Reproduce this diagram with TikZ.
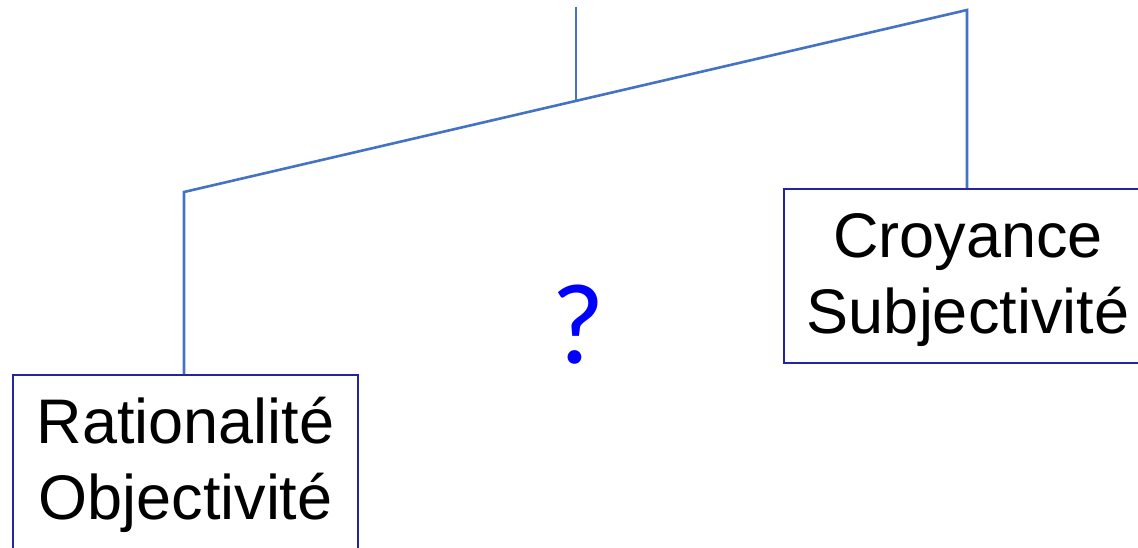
\documentclass[tikz,border=0pt]{standalone}
\usepackage{fontspec}
\setmainfont{Liberation Sans}
\newfontfamily\qfont{Carlito}
\usetikzlibrary{calc}
\definecolor{linkblue}{HTML}{4472C4}
\definecolor{boxblue}{HTML}{2424A0}
\definecolor{qblue}{HTML}{0000FF}
\begin{document}
\begin{tikzpicture}[x=1pt,y=1pt,
  link/.style={draw=linkblue,line width=2.6pt,line join=miter},
  termbox/.style={draw=boxblue,line width=1.8pt,fill=white,rectangle,inner sep=0pt,
    align=center,font=\fontsize{63}{76}\selectfont,text=black}]
\useasboundingbox (0,0) rectangle (1138,-548);
\fill[white] (0,0) rectangle (1138,-548);
\node[termbox,minimum width=345pt,minimum height=174pt] (L) at (185.5,-462) {\rule{0pt}{52pt}Rationalité\\Objectivité};
\node[termbox,minimum width=368pt,minimum height=174pt] (R) at (968,-276) {\rule{0pt}{52pt}Croyance\\Subjectivité};
\coordinate (lc) at (184,-192);
\coordinate (rc) at (967,-10);
\coordinate (top) at (576,-7);
\coordinate (mid) at ($(lc)!0.5!(rc)$);
\draw[link] (L.north -| lc) -- (lc) -- (rc) -- (R.north -| rc);
\draw[link] (top) -- (top |- mid);
\node[anchor=base,text=qblue,font=\qfont\fontsize{115}{115}\selectfont,inner sep=0pt] (q) at (578,-363) {?};
\end{tikzpicture}
\end{document}
